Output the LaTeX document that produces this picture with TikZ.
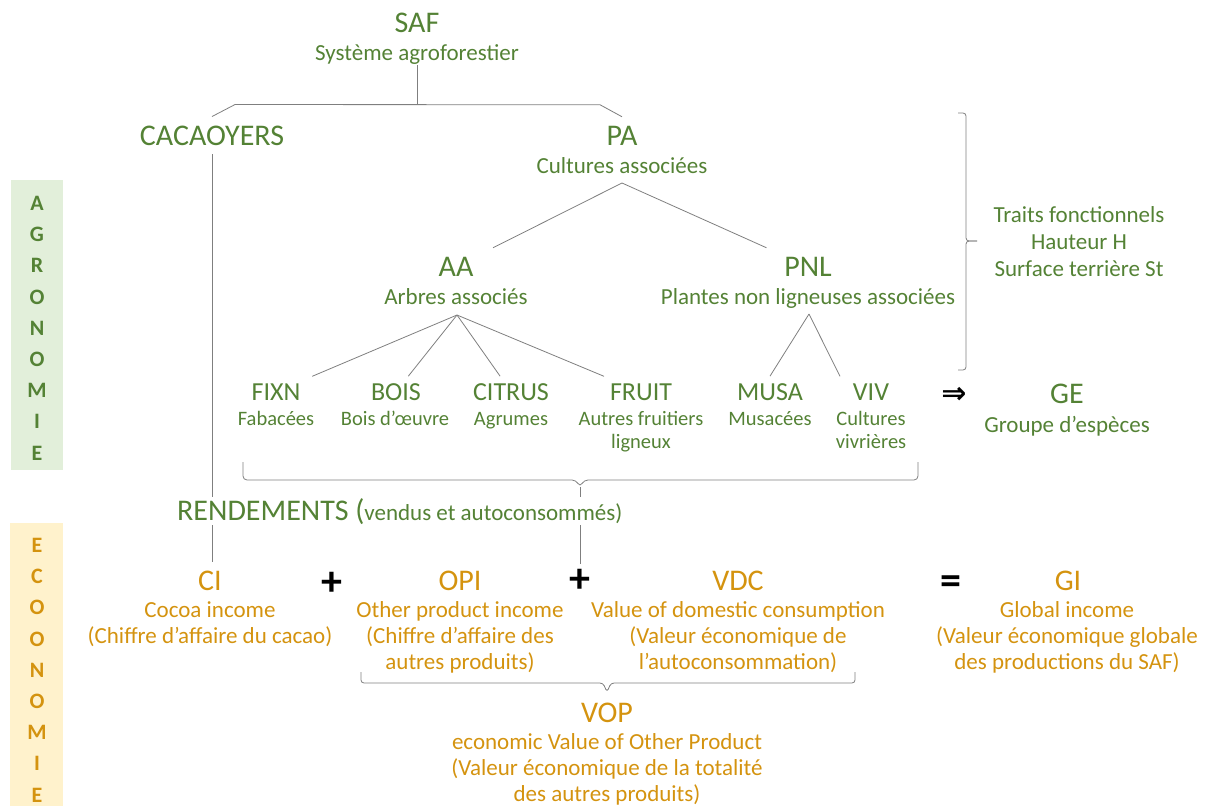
\documentclass[tikz,border=0pt]{standalone}
\usepackage{fontspec}
\setmainfont{Carlito}
\newfontfamily\arrowfont{DejaVu Sans}
\definecolor{agrogreen}{HTML}{548235}
\definecolor{ecoorange}{HTML}{D4930F}
\definecolor{agroband}{HTML}{E2EFDA}
\definecolor{ecoband}{HTML}{FFF2CC}
\definecolor{linegray}{HTML}{7F7F7F}
\tikzset{
  agro/.style={text=agrogreen},
  eco/.style={text=ecoorange},
  bigtxt/.style={anchor=base, inner sep=1pt, outer xsep=20pt, outer ysep=8pt, font=\fontsize{30}{36}\selectfont},
  midtxt/.style={anchor=base, inner sep=1pt, outer xsep=12pt, outer ysep=6pt, font=\fontsize{26}{31}\selectfont},
  subtxt/.style={anchor=base, inner sep=1pt, align=center, font=\fontsize{23}{26}\selectfont},
  smalltxt/.style={anchor=base, inner sep=1pt, align=center, font=\fontsize{20.5}{23}\selectfont},
  opsign/.style={anchor=base, inner sep=1pt, outer ysep=4pt, font=\fontsize{42}{46}\selectfont\bfseries},
  bandtxt/.style={anchor=north, inner sep=0pt, align=center, font=\fontsize{22}{31.2}\selectfont\bfseries},
  conn/.style={draw=linegray, line width=0.8pt},
}
\begin{document}
\begin{tikzpicture}[x=1pt,y=-1pt]
  \useasboundingbox (0,0) rectangle (1209,806);
  % bands
  \fill[agroband] (11,180) rectangle (63,470);
  \fill[ecoband] (10,523) rectangle (63,806);
  \node[bandtxt, agro] (agroletters) at (37,196) {A\\G\\R\\O\\N\\O\\M\\I\\E};
  \node[bandtxt, eco] (ecoletters) at (37,538) {E\\C\\O\\O\\N\\O\\M\\I\\E};

  % agronomie (base = last line)
  \node[bigtxt, agro] (saf) at (417,32) {SAF};
  \node[subtxt, agro] (safsub) at (417,60) {Système agroforestier};
  \node[bigtxt, agro] (cacao) at (212,145) {CACAOYERS};
  \node[bigtxt, agro] (pa) at (622,145) {PA};
  \node[subtxt, agro] (pasub) at (622,173) {Cultures associées};
  \node[bigtxt, agro] (aa) at (456,276) {AA};
  \node[subtxt, agro] (aasub) at (456,304) {Arbres associés};
  \node[bigtxt, agro] (pnl) at (808,276) {PNL};
  \node[subtxt, agro] (pnlsub) at (808,304) {Plantes non ligneuses associées};

  \node[midtxt, agro] (fixn) at (276,400) {FIXN};
  \node[smalltxt, agro] (fixnsub) at (276,425) {Fabacées};
  \node[midtxt, agro] (bois) at (396,400) {BOIS};
  \node[smalltxt, agro] (boissub) at (395,425) {Bois d’œuvre};
  \node[midtxt, agro] (citrus) at (511,400) {CITRUS};
  \node[smalltxt, agro] (citrussub) at (511,425) {Agrumes};
  \node[midtxt, agro] (fruit) at (641,400) {FRUIT};
  \node[smalltxt, agro] (fruitsub) at (641,448) {Autres fruitiers\\ligneux};
  \node[midtxt, agro] (musa) at (770,400) {MUSA};
  \node[smalltxt, agro] (musasub) at (770,425) {Musacées};
  \node[midtxt, agro] (viv) at (871,400) {VIV};
  \node[smalltxt, agro] (vivsub) at (871,448) {Cultures\\vivrières};

  \node[anchor=base, inner sep=1pt, font=\arrowfont\bfseries\fontsize{30}{34}\selectfont] (implies) at (954,403) {⇒};
  \node[bigtxt, agro] (ge) at (1067,403) {GE};
  \node[subtxt, agro] (gesub) at (1067,432) {Groupe d’espèces};
  \node[subtxt, agro, font=\fontsize{23}{27}\selectfont] (traits) at (1079,276) {Traits fonctionnels\\Hauteur H\\Surface terrière St};

  \coordinate (safjoin) at (417,105);
  \coordinate (paapex) at (622,183);
  \coordinate (aaapex) at (457,315);
  \coordinate (pnlapex) at (809,314);
  \coordinate (rendtip) at (580,487);
  \coordinate (voptip) at (607,692);

  \draw[conn] (safsub) -- (safjoin);
  \draw[conn] (cacao.north) -- ++(23,-12) -- ([xshift=-22pt,yshift=12pt]pa.north) -- (pa.north);
  \draw[conn] (paapex) -- (aa);
  \draw[conn] (paapex) -- (pnl);
  \draw[conn] (aaapex) -- (fixn);
  \draw[conn] (aaapex) -- (bois);
  \draw[conn] (aaapex) -- (citrus);
  \draw[conn] (aaapex) -- (fruit);
  \draw[conn] (pnlapex) -- (musa.north);
  \draw[conn] (pnlapex) -- (viv.north west);

  % accolades
  \draw[conn, rounded corners=3pt] (958,113) -| (966,235) |- (977,241);
  \draw[conn, rounded corners=3pt] (958,370) -| (966,247) |- (977,241);
  \draw[conn, rounded corners=4pt] (243,462) |- (576,480) -- (rendtip) -- (584,480) -| (918,462);
  \draw[conn, rounded corners=3pt] (361,672) |- (603,683) -- (voptip) -- (611,683) -| (855,672);

  % economie
  \node[bigtxt, eco] (ci) at (210,590) {CI};
  \node[subtxt, eco] (cisub) at (210,643) {Cocoa income\\(Chiffre d’affaire du cacao)};
  \node[opsign] (plusa) at (332,595) {+};
  \node[bigtxt, eco] (opi) at (460,590) {OPI};
  \node[subtxt, eco] (opisub) at (460,669) {Other product income\\(Chiffre d’affaire des\\autres produits)};
  \node[opsign] (plusb) at (580,592) {+};
  \node[bigtxt, eco] (vdc) at (738,590) {VDC};
  \node[subtxt, eco] (vdcsub) at (738,669) {Value of domestic consumption\\(Valeur économique de\\l’autoconsommation)};
  \node[opsign] (equal) at (951,594) {=};
  \node[bigtxt, eco] (gi) at (1068,590) {GI};
  \node[subtxt, eco] (gisub) at (1067,669) {Global income\\(Valeur économique globale\\des productions du SAF)};
  \node[bigtxt, eco] (vop) at (607,722) {VOP};
  \node[subtxt, eco] (vopsub) at (607,801) {economic Value of Other Product\\(Valeur économique de la totalité\\des autres produits)};

  \draw[conn] (cacao) -- (cacao |- ci.north);
  \draw[conn] (rendtip) -- (plusb);

  \node[anchor=base west, agro, fill=white, inner sep=1pt, font=\fontsize{30}{36}\selectfont] (rend) at (176,520) {RENDEMENTS (\fontsize{23}{26}\selectfont vendus et autoconsommés)};
\end{tikzpicture}
\end{document}
